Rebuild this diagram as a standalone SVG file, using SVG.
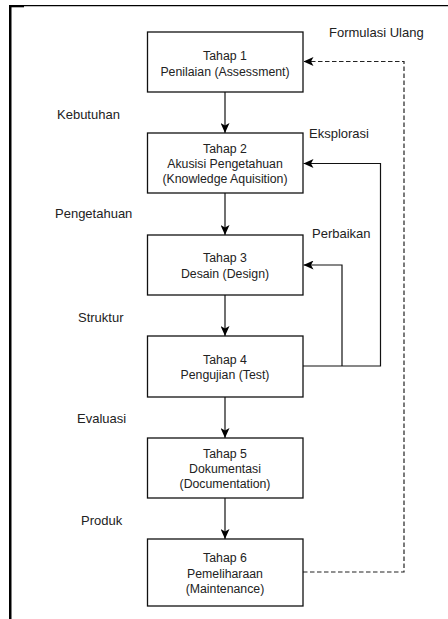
<svg xmlns="http://www.w3.org/2000/svg" width="448" height="619" viewBox="0 0 448 619">
<style>
.box{fill:#fff;stroke:#111;stroke-width:1.3}
.t{font-family:"Liberation Sans",Arial,sans-serif;font-size:12.3px;fill:#222;text-anchor:middle}
.l{font-family:"Liberation Sans",Arial,sans-serif;font-size:13px;fill:#222}
.c{fill:none;stroke:#111;stroke-width:1.2}
.d{fill:none;stroke:#222;stroke-width:1.2;stroke-dasharray:4.5,2.5}
</style>
<defs>
<marker id="ah" viewBox="0 0 10 9" markerWidth="10" markerHeight="9" refX="10" refY="4.5" orient="auto" markerUnits="userSpaceOnUse">
<path d="M0,0 L10,4.5 L0,9 L2.5,4.5 z" fill="#000"/>
</marker>
</defs>
<rect width="448" height="619" fill="#fff"/>
<g id="frame">
<rect x="9" y="5" width="2.5" height="614" fill="#000"/>
<rect x="9" y="5" width="15" height="2.3" fill="#000"/>
<line x1="24" y1="5.7" x2="448" y2="5.7" stroke="#000" stroke-width="1.3"/>
</g>
<g id="connectors">
<line class="c" x1="225" y1="92" x2="225" y2="133" marker-end="url(#ah)"/>
<line class="c" x1="225" y1="193" x2="225" y2="235" marker-end="url(#ah)"/>
<line class="c" x1="225" y1="295" x2="225" y2="336" marker-end="url(#ah)"/>
<line class="c" x1="225" y1="397" x2="225" y2="438" marker-end="url(#ah)"/>
<line class="c" x1="225" y1="498" x2="225" y2="539" marker-end="url(#ah)"/>
<polyline class="c" points="303,366 380.5,366 380.5,163.5 303.5,163.5" marker-end="url(#ah)"/>
<polyline class="c" points="342,366 342,265 303.5,265" marker-end="url(#ah)"/>
<polyline class="d" points="303,572 404,572 404,61.5 303.5,61.5" marker-end="url(#ah)"/>
</g>
<g id="n1">
<rect class="box" x="147.5" y="32" width="155.5" height="60"/>
<text class="t" x="225" y="59.5">Tahap 1</text>
<text class="t" x="225" y="75.5">Penilaian (Assessment)</text>
</g>
<g id="n2">
<rect class="box" x="147.5" y="133" width="155.5" height="60"/>
<text class="t" x="225" y="153">Tahap 2</text>
<text class="t" x="225" y="168">Akusisi Pengetahuan</text>
<text class="t" x="225" y="183">(Knowledge Aquisition)</text>
</g>
<g id="n3">
<rect class="box" x="147.5" y="235" width="155.5" height="60"/>
<text class="t" x="225" y="262">Tahap 3</text>
<text class="t" x="225" y="277.5">Desain (Design)</text>
</g>
<g id="n4">
<rect class="box" x="147.5" y="336" width="155.5" height="61"/>
<text class="t" x="225" y="363.5">Tahap 4</text>
<text class="t" x="225" y="379">Pengujian (Test)</text>
</g>
<g id="n5">
<rect class="box" x="147.5" y="438" width="155.5" height="60"/>
<text class="t" x="225" y="457.5">Tahap 5</text>
<text class="t" x="225" y="472.5">Dokumentasi</text>
<text class="t" x="225" y="488">(Documentation)</text>
</g>
<g id="n6">
<rect class="box" x="147.5" y="539" width="155.5" height="67"/>
<text class="t" x="225" y="561.5">Tahap 6</text>
<text class="t" x="225" y="577.5">Pemeliharaan</text>
<text class="t" x="225" y="593">(Maintenance)</text>
</g>
<g id="labels">
<text class="l" x="329" y="36.5">Formulasi Ulang</text>
<text class="l" x="57" y="119">Kebutuhan</text>
<text class="l" x="309" y="137.5">Eksplorasi</text>
<text class="l" x="55" y="217.5">Pengetahuan</text>
<text class="l" x="312" y="238">Perbaikan</text>
<text class="l" x="78" y="321.5">Struktur</text>
<text class="l" x="77" y="422.5">Evaluasi</text>
<text class="l" x="81" y="525">Produk</text>
</g>
</svg>
